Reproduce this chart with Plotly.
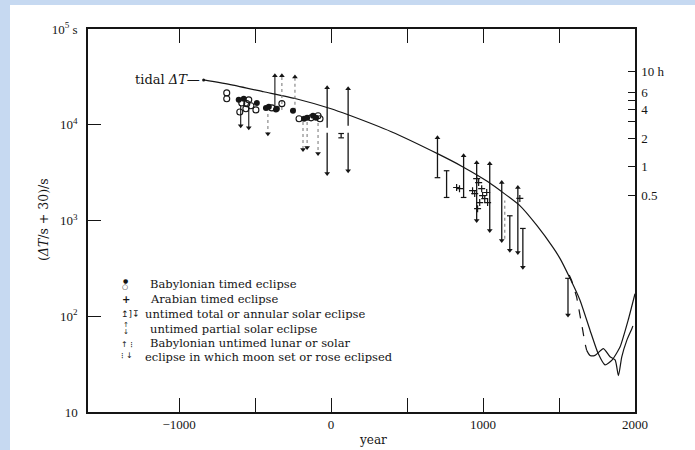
import math
import plotly.graph_objects as go

# ---------------- data ----------------
tidal_year = [-839, -654, -443, -231, 0, 112, 396, 700, 865, 1030, 1242, 1354, 1460, 1506,
              1572, 1638, 1704, 1757, 1803, 1850, 1902, 1955, 2000]
tidal_val = [29400, 26100, 22100, 18700, 14700, 12700, 8450, 4990, 3650, 2550, 1430, 887, 523, 402,
             249, 147, 71.5, 41, 31, 35, 48, 91, 172]

obs_year = [1682, 1704, 1737, 1792, 1836, 1869, 1891, 1913, 1946, 1980, 1986]
obs_val = [44, 39, 39, 46, 37.7, 35, 24, 37.7, 56, 74.5, 79]

dash_year = [1567, 1583, 1616, 1638, 1656, 1671, 1682]
dash_val = [270, 237, 159, 107, 71.5, 52, 44]

bab_open_year = [-687, -687, -601, -588, -561, -555, -542, -528, -495, -390, -324, -211, -132, -86, -73]
bab_open_val = [21500, 18700, 13600, 16900, 14700, 16600, 18200, 15800, 14300, 15000, 16600, 11550, 11800, 12400, 11550]
bab_fill_year = [-608, -575, -489, -429, -410, -363, -357, -251, -178, -158, -119, -99]
bab_fill_val = [18200, 18700, 16900, 15000, 15400, 14400, 14700, 14000, 11550, 11800, 12400, 11800]

arab_year = [826, 845, 931, 945, 958, 964, 971, 978, 991, 997, 1011, 1024, 1030, 1242]
arab_val = [2210, 2150, 2050, 1910, 2740, 1330, 2490, 1540, 2150, 1820, 1690, 1960, 1540, 1700]

# untimed total or annular solar eclipses (solid bars)
tot_year = [66, 700, 760, 872, 958, 1044, 1123, 1176, 1229, 1262, 1559]
tot_lo = [7300, 2800, 1740, 1740, 1000, 787, 617, 490, 464, 324, 103]
tot_hi = [8100, 7330, 3310, 4750, 4020, 3920, 2490, 1120, 2210, 826, 249]
tot_up = [0, 1, 0, 1, 1, 1, 1, 0, 1, 0, 0]
tot_down = [0, 0, 0, 0, 1, 1, 1, 1, 1, 1, 1]

# untimed partial solar eclipses (broken bars)
part_year = [-26, 112]
part_lo = [3090, 3310]
part_gap_lo = [8250, 8250]
part_gap_hi = [9310, 9760]
part_hi = [24300, 23700]

# dotted light bars
dot_bar_year = [1143]
dot_bar_lo = [645]
dot_bar_hi = [1620]

# Babylonian untimed lunar/solar eclipses (arrows)
bu_year = [-370, -324, -238, -595, -542, -416, -185, -158, -86]
bu_from = [15000, 14300, 14000, 16100, 15500, 15000, 10700, 10700, 10400]
bu_to = [32400, 32400, 31600, 9750, 9300, 8050, 5500, 5800, 5000]
bu_dotted = [0, 1, 1, 0, 0, 1, 1, 1, 1]

x_ticks = [-1000, -500, 0, 500, 1000, 1500, 2000]
x_labels = ["\u22121000", " ", "0", " ", "1000", " ", "2000"]
y_ticks = [10, 100, 1000, 10000, 100000]
y_labels = ["10", "10<sup>2</sup>", "10<sup>3</sup>", "10<sup>4</sup>", "10<sup>5</sup> s"]
hour_ticks = [10, 6, 5, 4, 3, 2, 1, 0.5]
hour_labels = ["10 h", "6", " ", "4", " ", "2", "1", "0.5"]

INK = "#151515"
GREY = "#808080"
SERIF = "DejaVu Serif"
TICKFONT = "Liberation Serif"

fig = go.Figure()


def seg_trace(xs, los, his, color, dash, width=1.2):
    X, Y = [], []
    for x, a, b in zip(xs, los, his):
        X += [x, x, None]
        Y += [a, b, None]
    return go.Scatter(x=X, y=Y, mode="lines", line=dict(color=color, width=width, dash=dash),
                      hoverinfo="skip", showlegend=False)


def head_trace(xs, ys, symbol, color, size=5):
    return go.Scatter(x=xs, y=ys, mode="markers",
                      marker=dict(symbol=symbol, size=size, color=color, line=dict(width=0)),
                      hoverinfo="skip", showlegend=False)


# curves
fig.add_trace(go.Scatter(x=tidal_year, y=tidal_val, mode="lines",
                         line=dict(color=INK, width=1.2, shape="spline", smoothing=0.5),
                         showlegend=False, hoverinfo="skip"))
fig.add_trace(go.Scatter(x=tidal_year[:1], y=tidal_val[:1], mode="markers", marker=dict(size=3, color=INK),
                         showlegend=False, hoverinfo="skip"))
fig.add_trace(go.Scatter(x=obs_year, y=obs_val, mode="lines",
                         line=dict(color=INK, width=1.2, shape="spline", smoothing=0.6),
                         showlegend=False, hoverinfo="skip"))
fig.add_trace(go.Scatter(x=dash_year, y=dash_val, mode="lines", line=dict(color=INK, width=1.2, dash="dash"),
                         showlegend=False, hoverinfo="skip"))

# Babylonian untimed arrows
for flag, col, dsh in [(0, INK, "solid"), (1, GREY, "dot")]:
    xs = [y for y, f in zip(bu_year, bu_dotted) if f == flag]
    fr = [v for v, f in zip(bu_from, bu_dotted) if f == flag]
    to = [v for v, f in zip(bu_to, bu_dotted) if f == flag]
    fig.add_trace(seg_trace(xs, fr, to, col, dsh, 1.1))
ups = [(y, t) for y, a, t in zip(bu_year, bu_from, bu_to) if t > a]
dns = [(y, t) for y, a, t in zip(bu_year, bu_from, bu_to) if t < a]
fig.add_trace(head_trace([u[0] for u in ups], [u[1] for u in ups], "triangle-up", INK))
fig.add_trace(head_trace([d[0] for d in dns], [d[1] for d in dns], "triangle-down", INK))

# untimed total bars
fig.add_trace(seg_trace(tot_year, tot_lo, tot_hi, INK, "solid", 1.3))
fig.add_trace(head_trace([y for y, u in zip(tot_year, tot_up) if u], [v for v, u in zip(tot_hi, tot_up) if u], "triangle-up", INK))
fig.add_trace(head_trace([y for y, d in zip(tot_year, tot_down) if d], [v for v, d in zip(tot_lo, tot_down) if d], "triangle-down", INK))
fig.add_trace(head_trace([y for y, u in zip(tot_year, tot_up) if not u], [v for v, u in zip(tot_hi, tot_up) if not u], "line-ew", INK, 4))
fig.add_trace(head_trace([y for y, d in zip(tot_year, tot_down) if not d], [v for v, d in zip(tot_lo, tot_down) if not d], "line-ew", INK, 4))
for tr in fig.data[-2:]:
    tr.marker.line = dict(width=1.2, color=INK)

# dotted bars
fig.add_trace(seg_trace(dot_bar_year, dot_bar_lo, dot_bar_hi, GREY, "dot", 1.1))

# partial bars
fig.add_trace(seg_trace(part_year, part_gap_hi, part_hi, INK, "solid", 1.3))
fig.add_trace(seg_trace(part_year, part_lo, part_gap_lo, INK, "solid", 1.3))
fig.add_trace(head_trace(part_year, part_hi, "triangle-up", INK))
fig.add_trace(head_trace(part_year, part_lo, "triangle-down", INK))

# timed eclipses
fig.add_trace(go.Scatter(x=bab_open_year, y=bab_open_val, mode="markers",
                         marker=dict(symbol="circle-open", size=6, color=INK, line=dict(width=1.1)),
                         showlegend=False, hoverinfo="skip"))
fig.add_trace(go.Scatter(x=bab_fill_year, y=bab_fill_val, mode="markers",
                         marker=dict(symbol="circle", size=6, color=INK),
                         showlegend=False, hoverinfo="skip"))
fig.add_trace(go.Scatter(x=arab_year, y=arab_val, mode="markers",
                         marker=dict(symbol="cross-thin", size=5, color=INK, line=dict(width=1.2, color=INK)),
                         showlegend=False, hoverinfo="skip"))

# right axis carrier (invisible)
fig.add_trace(go.Scatter(x=[None], y=[None], yaxis="y2", showlegend=False, hoverinfo="skip"))

W, H = 695, 450
L, R, T, B = 88, 60, 29, 38
PW, PH = W - L - R, H - T - B


def px(xp):
    return (xp - L) / PW


def py(yp):
    return (H - B - yp) / PH


fig.update_layout(
    width=W, height=H,
    margin=dict(l=L, r=R, t=T, b=B, pad=0),
    paper_bgcolor="white", plot_bgcolor="white",
    showlegend=False,
    xaxis=dict(range=[-1600, 2000], tickvals=x_ticks, ticktext=x_labels,
               ticks="inside", ticklen=14, tickwidth=1.4, tickcolor=INK,
               showline=True, linecolor=INK, linewidth=1.5, mirror="ticks",
               showgrid=False, zeroline=False,
               tickfont=dict(family=TICKFONT, size=13, color=INK)),
    yaxis=dict(type="log", range=[1, 5], tickvals=y_ticks, ticktext=y_labels,
               ticks="inside", ticklen=13, tickwidth=1.4, tickcolor=INK,
               showline=True, linecolor=INK, linewidth=1.5,
               showgrid=False, zeroline=False, ticklabelstandoff=6,
               tickfont=dict(family=TICKFONT, size=13, color=INK)),
    yaxis2=dict(type="log", range=[1, 5], overlaying="y", side="right",
                tickvals=[h * 3600 + 30 for h in hour_ticks], ticktext=hour_labels,
                ticks="inside", ticklen=7, tickwidth=1.3, tickcolor=INK,
                showline=True, linecolor=INK, linewidth=1.5,
                showgrid=False, zeroline=False, ticklabelstandoff=2,
                tickfont=dict(family=TICKFONT, size=13, color=INK)),
)

# page border strips
BLUE = "#c6d9f1"
fig.add_shape(type="rect", xref="paper", yref="paper", x0=px(0), x1=px(10), y0=py(H), y1=py(0),
              fillcolor=BLUE, line=dict(width=0), layer="below")
fig.add_shape(type="rect", xref="paper", yref="paper", x0=px(0), x1=px(W), y0=py(5), y1=py(0),
              fillcolor=BLUE, line=dict(width=0), layer="below")

ann = []
# tidal label
ann.append(dict(x=tidal_year[0] - 10, y=math.log10(tidal_val[0]), xref="x", yref="y",
                text="tidal <i>ΔT</i>\u2014", showarrow=False, xanchor="right", yanchor="middle",
                font=dict(family=SERIF, size=13, color=INK)))
# axis titles
ann.append(dict(x=px(373), y=py(440), xref="paper", yref="paper", text="year", showarrow=False,
                xanchor="center", yanchor="middle", font=dict(family=SERIF, size=12, color=INK)))
ann.append(dict(x=px(43), y=py(220), xref="paper", yref="paper", text="(<i>ΔT</i>/s + 30)/s",
                showarrow=False, textangle=-90, xanchor="center", yanchor="middle",
                font=dict(family=SERIF, size=12.5, color=INK)))

# key
key_lines = [
    (148, 284, "Babylonian timed eclipse"),
    (148, 299, "Arabian timed eclipse"),
    (143, 314, "untimed total or annular solar eclipse"),
    (148, 329, "untimed partial solar eclipse"),
    (148, 343, "Babylonian untimed lunar or solar"),
    (143, 357, "eclipse in which moon set or rose eclipsed"),
]
for x0, y0, t in key_lines:
    ann.append(dict(x=px(x0), y=py(y0), xref="paper", yref="paper", text=t, showarrow=False,
                    xanchor="left", yanchor="middle", font=dict(family=SERIF, size=11.5, color=INK)))

key_syms = [
    (125, 280, "●", 6, INK),
    (125, 287, "○", 7, INK),
    (126, 299, "<b>+</b>", 10, INK),
    (130, 314, "↥]↧", 9, INK),
    (126, 325, "↑", 7, INK),
    (126, 332, "↓", 7, INK),
    (127, 344, "↑ ⁝", 8, INK),
    (127, 355, "⁝ ↓", 8, INK),
]
for x0, y0, t, s, c in key_syms:
    ann.append(dict(x=px(x0), y=py(y0), xref="paper", yref="paper", text=t, showarrow=False,
                    xanchor="center", yanchor="middle", font=dict(family="DejaVu Sans", size=s, color=c)))

fig.update_layout(annotations=ann)

fig.write_html("out.html")
